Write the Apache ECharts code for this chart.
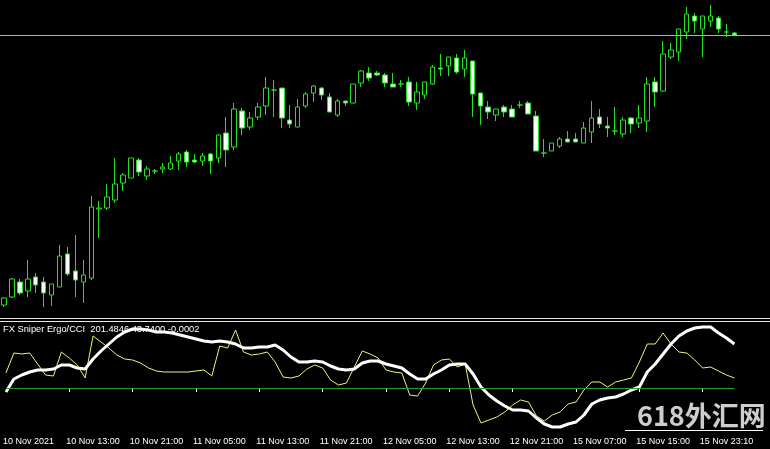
<!DOCTYPE html>
<html><head><meta charset="utf-8">
<script src="https://cdn.jsdelivr.net/npm/echarts@6/dist/echarts.min.js"></script>
<style>html,body{margin:0;padding:0;background:#000;overflow:hidden}#c{width:770px;height:449px}</style>
</head><body><div id="c"></div>
<script>
// ---- price pane (H1 candles), values in chart points ----
const opens  = [12,20,35,26,40,35,22,30,63,46,35,39,108,109,117,134,139,157,141,146,148,148,156,165,157,156,163,159,184,170,206,190,200,211,227,229,197,190,211,224,229,220,202,216,214,234,244,244,242,233,233,235,214,222,233,249,251,259,248,256,224,210,202,210,208,212,214,201,164,166,171,178,178,174,185,200,191,186,183,199,194,196,235,226,260,265,285,301,288,296,299,285,284];
const closes = [19,38,24,38,32,24,33,61,43,37,42,110,109,120,133,142,159,145,148,146,150,154,163,155,155,161,156,182,167,208,189,199,210,229,227,199,193,210,223,231,222,205,216,214,233,246,239,242,234,230,233,215,225,235,250,248,260,245,259,223,211,205,208,205,200,212,203,166,164,174,178,175,175,189,199,193,189,186,197,193,199,233,225,263,267,288,303,296,301,301,288,285,282];
const lows   = [10,19,22,20,24,10,11,30,41,20,14,37,79,107,114,126,139,141,137,143,144,147,147,150,154,151,143,154,150,167,182,187,197,202,200,189,189,190,209,215,217,205,200,211,214,230,236,241,230,230,230,211,207,218,232,241,241,243,240,200,192,198,196,200,200,209,203,166,160,166,169,175,175,174,174,189,180,182,180,184,189,185,210,225,258,256,278,284,260,290,284,280,282];
const highs  = [20,39,38,57,44,40,33,72,70,82,57,121,116,133,159,144,159,159,151,148,154,161,165,167,163,164,164,183,200,214,209,205,214,240,237,229,212,218,225,232,230,224,218,216,233,247,250,246,244,244,237,240,235,235,252,263,260,263,267,256,224,216,208,212,212,216,216,206,178,174,180,186,184,195,216,208,200,210,200,200,212,240,240,276,274,288,310,304,301,312,301,293,285];

// ---- indicator pane: FX Sniper Ergo / CCI ----
const ergoLine = [-4,9,13,16,18,18,19,23,23,20,19,29,37,44,51,56,59,59,58,56,56,55,53,51,49,47,46,47,46,44,40,40,41,41,43,38,31,26,26,27,26,22,19,18,19,25,27,27,24,22,20,14,9,9,14,18,23,24,24,14,1,-7,-13,-18,-22,-22,-23,-30,-36,-39,-39,-36,-34,-27,-16,-12,-10,-9,-6,-2,1,16,24,34,44,52,57,60,61,61,55,50,44];
const cciLine  = [15,35,34,35,24,13,12,36,30,23,10,52,46,40,33,29,28,25,20,17,16,16,16,16,17,18,12,42,40,58,36,33,34,36,26,11,10,12,19,23,20,8,3,5,21,37,34,30,18,16,15,-7,-8,5,23,28,29,21,24,-17,-35,-32,-29,-24,-17,-12,-14,-28,-33,-27,-24,-16,-14,-2,6,6,1,6,8,10,26,44,44,55,44,36,35,28,20,21,17,13,10];

// ---- time axis labels (every 8 bars) ----
const tickLabels = ['10 Nov 2021','10 Nov 13:00','10 Nov 21:00','11 Nov 05:00','11 Nov 13:00','11 Nov 21:00','12 Nov 05:00','12 Nov 13:00','12 Nov 21:00','15 Nov 07:00','15 Nov 15:00','15 Nov 23:10'];
const labelStep = 8;
const indicatorName = 'FX Sniper Ergo/CCI';
const indicatorReadout = ['201.4846','43.7400','-0.0002'];
const watermark = '618外汇网';
const shiftBars = 4;

const nBars = opens.length;
const categories = Array.from({length: nBars + shiftBars}, (_, i) => String(i));
const candles = opens.map((o, i) => [o, closes[i], lows[i], highs[i]]);
const lastClose = closes[nBars - 1];

const FONT = '"Liberation Sans",Arial,sans-serif';
const LIME = '#22e022';
const barPx = 8;
const showIdx = (idx) => idx % labelStep === 0 && idx / labelStep < tickLabels.length;

const chart = echarts.init(document.getElementById('c'), null, {renderer: 'canvas'});
chart.setOption({
  backgroundColor: '#000',
  animation: false,
  title: {
    text: indicatorName + '  ' + indicatorReadout.join(' '),
    left: 3, top: 325, padding: 0,
    textStyle: {color: '#fff', fontSize: 9.3, fontWeight: 'normal', fontFamily: FONT}
  },
  grid: [
    {left: -4.5, width: categories.length * barPx, top: 0, height: 317},
    {left: -4.5, width: categories.length * barPx, top: 322, height: 110}
  ],
  xAxis: [
    {type: 'category', gridIndex: 0, data: categories, boundaryGap: true, show: false},
    {type: 'category', gridIndex: 1, data: categories, boundaryGap: true,
      axisLine: {show: false},
      axisTick: {show: true, alignWithLabel: true, length: 4, lineStyle: {color: '#fff'}, interval: showIdx},
      axisLabel: {show: true, color: '#fff', fontSize: 9, fontFamily: FONT, align: 'left', margin: 5,
        padding: [0, 0, 0, -3],
        interval: showIdx,
        formatter: (v, idx) => tickLabels[idx / labelStep] || ''},
      splitLine: {show: false}}
  ],
  yAxis: [
    {type: 'value', gridIndex: 0, min: 0, max: 317, show: false, splitLine: {show: false}},
    {type: 'value', gridIndex: 1, min: -44, max: 66, show: false, splitLine: {show: false}}
  ],
  series: [
    {
      type: 'candlestick', xAxisIndex: 0, yAxisIndex: 0, data: candles, barWidth: 5,
      itemStyle: {color: '#000', color0: '#f2fff2', borderColor: LIME, borderColor0: LIME, borderWidth: 1},
      markLine: {
        silent: true, symbol: 'none', label: {show: false},
        lineStyle: {color: '#b0b0b0', width: 1, type: 'solid'},
        data: [{yAxis: lastClose}]
      }
    },
    {
      type: 'line', xAxisIndex: 1, yAxisIndex: 1, data: cciLine, showSymbol: false, symbol: 'none',
      lineStyle: {color: '#f2f27a', width: 1}, z: 3,
      markLine: {
        silent: true, symbol: 'none', label: {show: false},
        lineStyle: {color: '#2a9a2a', width: 1, type: 'solid'},
        data: [[{coord: ['0', 0]}, {coord: [String(nBars - 1), 0]}]]
      }
    },
    {
      type: 'line', xAxisIndex: 1, yAxisIndex: 1, data: ergoLine, showSymbol: false, symbol: 'none',
      lineStyle: {color: '#ffffff', width: 3}, z: 4
    }
  ],
  graphic: [
    {type: 'line', shape: {x1: 0, y1: 318.5, x2: 770, y2: 318.5}, style: {stroke: '#e8e8e8', lineWidth: 1}, silent: true},
    {type: 'line', shape: {x1: 0, y1: 321.5, x2: 770, y2: 321.5}, style: {stroke: '#e8e8e8', lineWidth: 1}, silent: true},
    {type: 'line', shape: {x1: 625, y1: 430.5, x2: 763, y2: 430.5}, style: {stroke: '#ffffff', lineWidth: 1}, silent: true, z: 50},
    {type: 'text', left: 637, top: 402, z: 60, silent: true,
      style: {text: watermark, fill: 'rgba(222,222,222,0.92)', font: 'bold 27px "Noto Sans CJK SC", sans-serif'}}
  ]
});
</script>
</body></html>
